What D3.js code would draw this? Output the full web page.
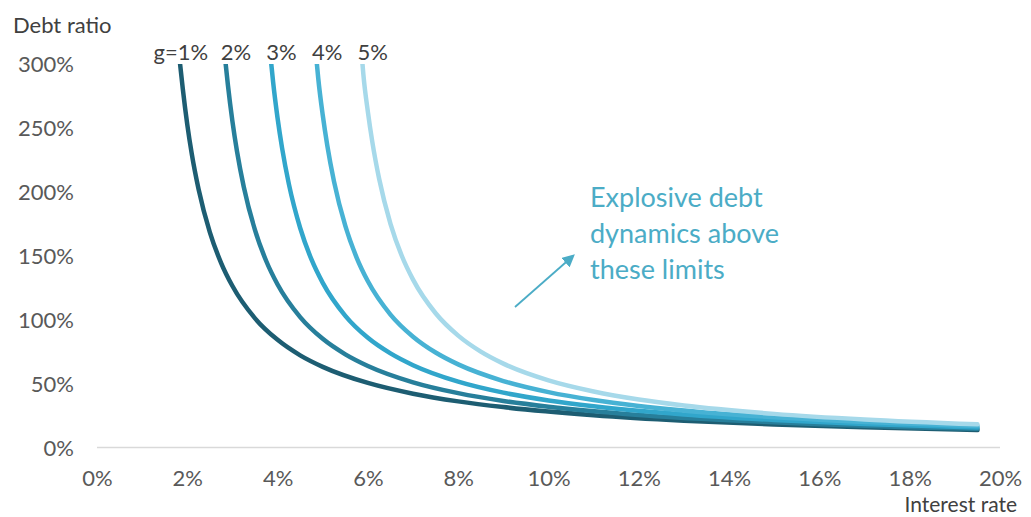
<!DOCTYPE html>
<html>
<head>
<meta charset="utf-8">
<script src="https://cdn.jsdelivr.net/npm/d3@7"></script>
<style>
  html, body { margin: 0; padding: 0; background: #fff; }
  svg { display: block; font-family: Lato, "Open Sans", sans-serif; }
</style>
</head>
<body>
<svg id="chart" width="1031" height="517"></svg>
<script>
// ---- data ----
const seriesLabels = ["g=1%", "2%", "3%", "4%", "5%"];
const rate_g1 = [1.84, 1.9, 2.0, 2.1, 2.25, 2.5, 2.75, 3, 3.5, 4, 4.5, 5, 6, 7, 8, 9, 11, 13, 15, 17, 19.5];
const debt_g1 = [300, 280.6, 252.5, 229.5, 202, 168.3, 144.3, 126.3, 101, 84.2, 72.1, 63.1, 50.5, 42.1, 36.1, 31.6, 25.3, 21.0, 18.0, 15.8, 13.6];
const rate_g2 = [2.85, 2.9, 3.0, 3.1, 3.25, 3.5, 3.75, 4, 4.5, 5, 5.5, 6, 7, 8, 9, 10, 12, 14, 16, 18, 19.5];
const debt_g2 = [300, 283.3, 255, 231.8, 204, 170, 145.7, 127.5, 102, 85, 72.9, 63.8, 51, 42.5, 36.4, 31.9, 25.5, 21.3, 18.2, 15.9, 14.6];
const rate_g3 = [3.86, 3.9, 4.0, 4.1, 4.25, 4.5, 4.75, 5, 5.5, 6, 6.5, 7, 8, 9, 10, 11, 13, 15, 17, 19.5];
const debt_g3 = [300, 286.1, 257.5, 234.1, 206, 171.7, 147.1, 128.8, 103, 85.8, 73.6, 64.4, 51.5, 42.9, 36.8, 32.2, 25.8, 21.5, 18.4, 15.6];
const rate_g4 = [4.87, 4.9, 5.0, 5.1, 5.25, 5.5, 5.75, 6, 6.5, 7, 7.5, 8, 9, 10, 11, 12, 14, 16, 19.5];
const debt_g4 = [300, 288.9, 260, 236.4, 208, 173.3, 148.6, 130, 104, 86.7, 74.3, 65, 52, 43.3, 37.1, 32.5, 26, 21.7, 16.8];
const rate_g5 = [5.88, 5.9, 6.0, 6.1, 6.25, 6.5, 6.75, 7, 7.5, 8, 8.5, 9, 10, 11, 12, 13, 15, 17, 19.5];
const debt_g5 = [300, 291.7, 262.5, 238.6, 210, 175, 150, 131.3, 105, 87.5, 75, 65.6, 52.5, 43.8, 37.5, 32.8, 26.3, 21.9, 18.1];
const xTicks = [0, 2, 4, 6, 8, 10, 12, 14, 16, 18, 20];
const yTicks = [0, 50, 100, 150, 200, 250, 300];
const annotationLines = ["Explosive debt", "dynamics above", "these limits"];

// ---- styles ----
const colors = ["#1d5d72", "#277f9b", "#31a6cb", "#47b2d4", "#a6d9ea"];
const rates = [rate_g1, rate_g2, rate_g3, rate_g4, rate_g5];
const debts = [debt_g1, debt_g2, debt_g3, debt_g4, debt_g5];
const series = seriesLabels.map((lab, i) => ({
  label: lab, color: colors[i],
  points: rates[i].map((r, j) => ({ r, d: debts[i][j] }))
}));

const svg = d3.select("#chart");
const x = d3.scaleLinear().domain([0, 20]).range([97, 1000]);
const y = d3.scaleLinear().domain([0, 300]).range([447.5, 64]);
const textColor = "#595959";
const fs = "22px";

// clip at top of the plot
svg.append("defs").append("clipPath").attr("id", "plotclip")
  .append("rect").attr("x", 0).attr("y", y(300)).attr("width", 1031).attr("height", 517);

// x axis line
svg.append("line")
  .attr("x1", x(0)).attr("x2", x(20))
  .attr("y1", y(0)).attr("y2", y(0))
  .attr("stroke", "#d9d9d9").attr("stroke-width", 1.5);

// y axis labels
const yAxis = d3.axisLeft(y).tickValues(yTicks).tickFormat(d => d + "%").tickSize(0).tickPadding(0);
const gy = svg.append("g").attr("transform", "translate(74,0)").call(yAxis);
gy.select(".domain").remove();
gy.selectAll("text").attr("fill", textColor).style("font-size", fs)
  .style("font-family", "Lato, 'Open Sans', sans-serif").attr("dy", "0.35em");

// x axis labels
const xAxis = d3.axisBottom(x).tickValues(xTicks).tickFormat(d => d + "%").tickSize(0).tickPadding(0);
const gx = svg.append("g").attr("transform", "translate(0,478)").call(xAxis);
gx.select(".domain").remove();
gx.selectAll("text").attr("fill", textColor).style("font-size", fs)
  .style("font-family", "Lato, 'Open Sans', sans-serif").attr("dy", "0.35em");

// axis titles
svg.append("text").attr("x", 13).attr("y", 25).attr("dy", "0.35em")
  .attr("fill", "#404040").style("font-size", fs).text("Debt ratio");
svg.append("text").attr("x", 1017).attr("y", 505).attr("dy", "0.35em").attr("text-anchor", "end")
  .attr("fill", "#404040").style("font-size", "21px").text("Interest rate");

// curves
const line = d3.line().x(p => x(p.r)).y(p => y(p.d)).curve(d3.curveMonotoneX);
svg.append("g").attr("clip-path", "url(#plotclip)")
  .selectAll("path").data(series).join("path")
  .attr("d", s => line(s.points))
  .attr("fill", "none")
  .attr("stroke", s => s.color)
  .attr("stroke-width", 4.5)
  .attr("stroke-linecap", "round");

// series labels at top
series.forEach((s, i) => {
  const x0 = x(s.points[0].r);
  const t = svg.append("text").attr("y", 52).attr("dy", "0.35em")
    .attr("fill", "#404040").style("font-size", fs);
  if (i === 0) {
    t.attr("x", x0 + 28).attr("text-anchor", "end").text(s.label);
  } else {
    t.attr("x", x0 - 5).attr("text-anchor", "start").text(s.label);
  }
});

// annotation
const annColor = "#4bacc6";
const ann = svg.append("text").attr("fill", annColor).style("font-size", "27px");
annotationLines.forEach((l, i) => {
  ann.append("tspan").attr("x", 590).attr("y", 198 + i * 36).attr("dy", "0.35em").text(l);
});
svg.append("defs").append("marker").attr("id", "arrow")
  .attr("viewBox", "0 0 10 10").attr("refX", 8).attr("refY", 5)
  .attr("markerWidth", 7).attr("markerHeight", 7).attr("orient", "auto")
  .append("path").attr("d", "M0,0 L10,5 L0,10 z").attr("fill", annColor);
svg.append("line")
  .attr("x1", 515).attr("y1", 307).attr("x2", 573).attr("y2", 256)
  .attr("stroke", annColor).attr("stroke-width", 1.8)
  .attr("marker-end", "url(#arrow)");
</script>
</body>
</html>
